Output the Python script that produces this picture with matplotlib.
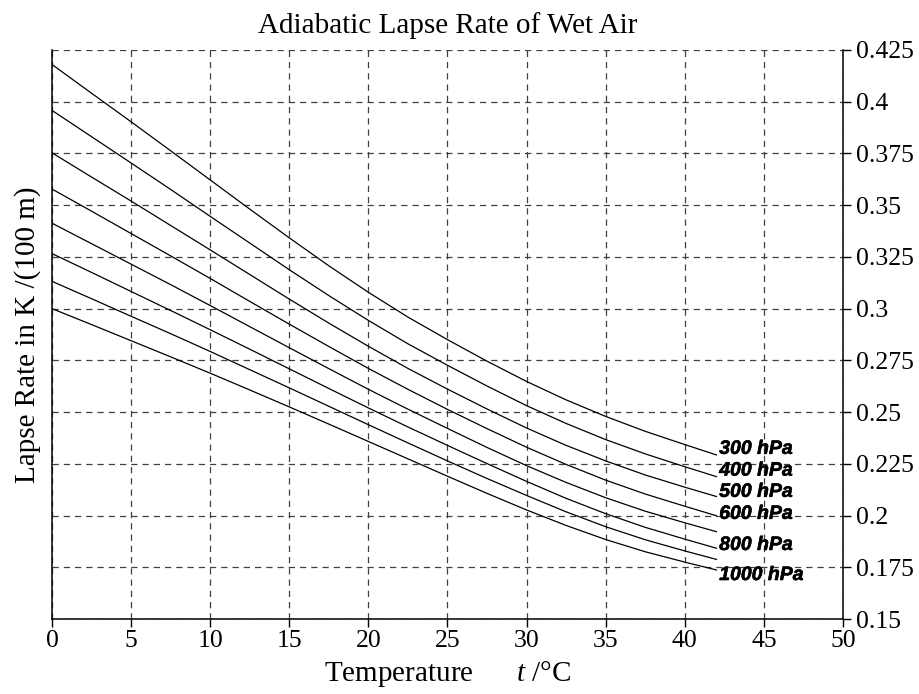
import numpy as np
import matplotlib
matplotlib.use("Agg")
from matplotlib import pyplot as plt
import matplotlib.patheffects as pe

plt.rcParams['font.family'] = ['Liberation Serif', 'DejaVu Serif']
plt.rcParams['mathtext.fontset'] = 'custom'
plt.rcParams['mathtext.it'] = 'Liberation Serif:italic'
plt.rcParams['mathtext.rm'] = 'Liberation Serif'

#   温度 (°C)
temps = [0, 2.5, 5, 7.5, 10, 12.5, 15, 17.5, 20, 22.5, 25, 27.5, 30, 32.5, 35, 37.5, 40, 42]

#   各压力层的递减率 K/(100 m)
rate_300 = [0.4180, 0.4041, 0.3903, 0.3763, 0.3622, 0.3481, 0.3342, 0.3207, 0.3079,
            0.2959, 0.2850, 0.2746, 0.2648, 0.2559, 0.2479, 0.2407, 0.2343, 0.2293]
rate_400 = [0.3958, 0.3831, 0.3704, 0.3576, 0.3446, 0.3317, 0.3188, 0.3063, 0.2943,
            0.2830, 0.2726, 0.2626, 0.2531, 0.2445, 0.2367, 0.2298, 0.2236, 0.2188]
rate_500 = [0.3753, 0.3636, 0.3520, 0.3402, 0.3284, 0.3165, 0.3046, 0.2930, 0.2818,
            0.2711, 0.2611, 0.2515, 0.2423, 0.2339, 0.2264, 0.2196, 0.2137, 0.2092]
rate_600 = [0.3578, 0.3471, 0.3363, 0.3255, 0.3146, 0.3035, 0.2925, 0.2817, 0.2711,
            0.2610, 0.2513, 0.2420, 0.2330, 0.2247, 0.2171, 0.2104, 0.2045, 0.1999]
rate_700 = [0.3413, 0.3314, 0.3215, 0.3116, 0.3015, 0.2913, 0.2811, 0.2710, 0.2610,
            0.2514, 0.2421, 0.2329, 0.2241, 0.2160, 0.2086, 0.2021, 0.1965, 0.1922]
rate_800 = [0.3266, 0.3175, 0.3083, 0.2991, 0.2898, 0.2804, 0.2709, 0.2614, 0.2520,
            0.2428, 0.2339, 0.2251, 0.2165, 0.2083, 0.2009, 0.1943, 0.1886, 0.1842]
rate_900 = [0.3132, 0.3048, 0.2963, 0.2879, 0.2793, 0.2705, 0.2617, 0.2528, 0.2439,
            0.2351, 0.2264, 0.2179, 0.2097, 0.2018, 0.1946, 0.1883, 0.1829, 0.1788]
rate_1000 = [0.3000, 0.2923, 0.2845, 0.2767, 0.2688, 0.2607, 0.2525, 0.2442, 0.2358,
             0.2274, 0.2190, 0.2107, 0.2027, 0.1952, 0.1884, 0.1825, 0.1775, 0.1737]

rates = [rate_300, rate_400, rate_500, rate_600, rate_700, rate_800, rate_900, rate_1000]
labels = ['300 hPa', '400 hPa', '500 hPa', '600 hPa', None, '800 hPa', None, '1000 hPa']
label_dy = [4, 4, 3, 1, 0, 2, 0, -4]   # 点, 标签偏移

xticks = [0, 5, 10, 15, 20, 25, 30, 35, 40, 45, 50]
yticks = [0.15, 0.175, 0.2, 0.225, 0.25, 0.275, 0.3, 0.325, 0.35, 0.375, 0.4, 0.425]
ytick_labels = ['0.15', '0.175', '0.2', '0.225', '0.25', '0.275', '0.3', '0.325', '0.35', '0.375', '0.4', '0.425']

fig = plt.figure(figsize=(9.2, 6.94), dpi=100)
ax = fig.add_axes([52/920, 1 - 619/694, (843-52)/920, (619-50)/694])

for r, lab, dy in zip(rates, labels, label_dy):
    ax.plot(temps, r, color='black', lw=0.9)
    if lab:
        ax.annotate(lab, xy=(temps[-1], r[-1]), xytext=(2, dy), textcoords='offset points',
                    fontsize=14, fontweight='bold', fontstyle='italic',
                    family=['Liberation Sans', 'DejaVu Sans'], va='center', ha='left',
                    path_effects=[pe.withStroke(linewidth=0.4, foreground='black')])

ax.set_xlim(0, 50)
ax.set_ylim(0.15, 0.425)
ax.set_xticks(xticks)
ax.set_yticks(yticks)
ax.set_yticklabels(ytick_labels)
ax.yaxis.tick_right()
ax.tick_params(axis='both', direction='out', length=6, width=1, labelsize=18.5)
ax.tick_params(axis='x', pad=2)
ax.tick_params(axis='y', left=False, right=True, pad=3.5)
ax.grid(True, color='0.25', linestyle=(0, (5, 4)), lw=0.9)
ax.spines['top'].set_visible(False)
for s in ['left', 'right', 'bottom']:
    ax.spines[s].set_linewidth(1.1)

ax.set_title('Adiabatic Lapse Rate of Wet Air', fontsize=21, pad=12)
ax.set_xlabel('Temperature      $t$ /°C', fontsize=21, labelpad=5)
ax.set_ylabel('Lapse Rate in K /(100 m)', fontsize=21, labelpad=8)
ax.yaxis.set_label_position('left')

fig.savefig('out.png', dpi=100)
